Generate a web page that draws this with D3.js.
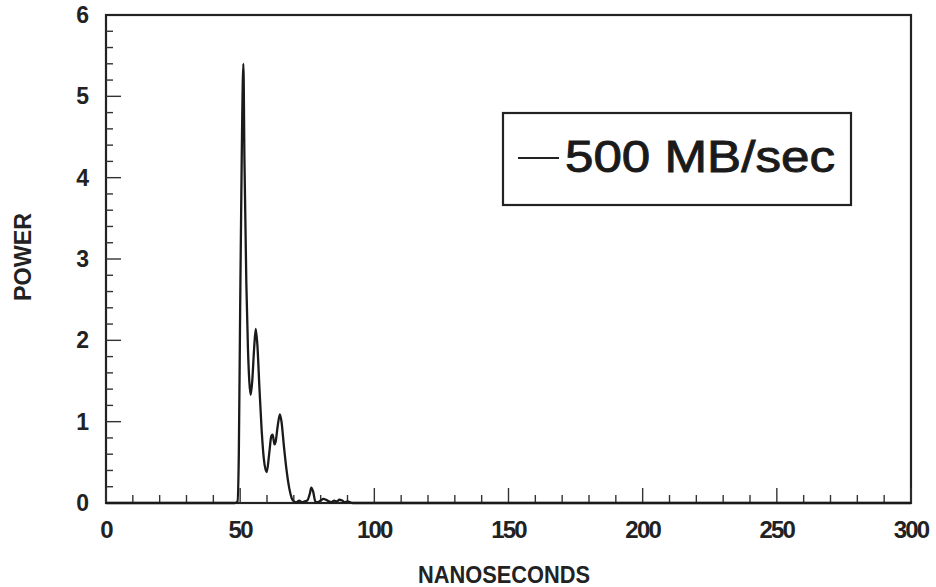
<!DOCTYPE html>
<html><head><meta charset="utf-8">
<script src="https://cdn.jsdelivr.net/npm/d3@7/dist/d3.min.js"></script>
<style>body{margin:0;background:#fff}svg{display:block}</style>
</head><body><svg id="c" width="936" height="587"></svg>
<script>
const time = [0,48,49,49.5,50,50.6,51.2,51.6,52.3,52.9,53.4,53.9,54.5,55.2,55.8,56.4,57.2,58.0,58.8,59.9,60.8,61.6,62.1,62.8,63.2,64.0,64.8,65.4,66.3,67.3,68.3,69.2,70,71,72,73,74,75,76,76.5,77.2,78,79,80,81,82,83,84,85,86,87,88,89,90,92,300];
const power = [0,0,0.02,0.6,2.4,4.3,5.4,4.2,2.7,1.9,1.5,1.33,1.5,1.9,2.14,1.95,1.4,0.9,0.55,0.38,0.6,0.82,0.84,0.72,0.75,0.95,1.09,1.0,0.7,0.4,0.18,0.06,0.02,0.01,0.03,0.01,0.02,0.03,0.12,0.19,0.14,0.02,0.01,0.03,0.05,0.04,0.02,0.01,0.03,0.02,0.04,0.03,0.01,0.02,0,0];
const xTicks = [0,50,100,150,200,250,300];
const yTicks = [0,1,2,3,4,5,6];
const seriesName = "500 MB/sec";
const xLabel = "NANOSECONDS", yLabel = "POWER";

const svg = d3.select("#c");
const L=106, R=911, T=15, B=503;
const x = d3.scaleLinear().domain([0,300]).range([L,R]);
const y = d3.scaleLinear().domain([0,6]).range([B,T]);
const font = "'Liberation Sans', Arial, sans-serif";

// frame
svg.append("rect").attr("x",L).attr("y",T).attr("width",R-L).attr("height",B-T)
  .attr("fill","none").attr("stroke","#222").attr("stroke-width",2.2);

// minor/major ticks (inward)
const xMinor = d3.range(0,301,10);
svg.append("g").selectAll("line").data(xMinor).join("line")
  .attr("x1",d=>x(d)).attr("x2",d=>x(d)).attr("y1",B)
  .attr("y2",d=> d%50===0 ? B-15 : B-8).attr("stroke","#333").attr("stroke-width",1.4);
const yMinor = d3.range(0,30).map(i=>i*0.2);
svg.append("g").selectAll("line").data(yMinor).join("line")
  .attr("y1",d=>y(d)).attr("y2",d=>y(d)).attr("x1",L)
  .attr("x2",d=> Math.abs(d-Math.round(d))<1e-6 ? L+15 : L+7).attr("stroke","#333").attr("stroke-width",1.4);

// tick labels
svg.append("g").selectAll("text").data(xTicks).join("text")
  .attr("x",d=>x(d)).attr("y",538).attr("text-anchor","middle")
  .attr("font-family",font).attr("font-weight","bold").attr("font-size",24)
  .attr("letter-spacing",-1.8).attr("fill","#222").text(d=>d);
svg.append("g").selectAll("text").data(yTicks).join("text")
  .attr("x",89).attr("y",d=>y(d)+8).attr("text-anchor","end")
  .attr("font-family",font).attr("font-weight","bold").attr("font-size",23)
  .attr("fill","#222").text(d=>d);

// axis titles
svg.append("text").attr("x",504).attr("y",583).attr("text-anchor","middle")
  .attr("font-family",font).attr("font-weight","bold").attr("font-size",24)
  .attr("textLength",172).attr("lengthAdjust","spacingAndGlyphs").attr("fill","#222").text(xLabel);
svg.append("text").attr("transform","translate(31,257) rotate(-90)").attr("text-anchor","middle")
  .attr("font-family",font).attr("font-weight","bold").attr("font-size",23)
  .attr("textLength",88).attr("lengthAdjust","spacingAndGlyphs").attr("fill","#222").text(yLabel);

// data line
const line = d3.line().x((d,i)=>x(time[i])).y(d=>y(d)).curve(d3.curveMonotoneX);
svg.append("path").datum(power).attr("d",line).attr("fill","none")
  .attr("stroke","#1a1a1a").attr("stroke-width",2.3).attr("stroke-linejoin","round");

// legend
const lg = svg.append("g");
lg.append("rect").attr("x",503).attr("y",113).attr("width",348).attr("height",92)
  .attr("fill","#fff").attr("stroke","#222").attr("stroke-width",2.2);
lg.append("line").attr("x1",518).attr("x2",559).attr("y1",158).attr("y2",158)
  .attr("stroke","#222").attr("stroke-width",1.8);
lg.append("text").attr("x",565).attr("y",172).attr("font-family",font)
  .attr("font-size",44).attr("fill","#1a1a1a").attr("stroke","#1a1a1a").attr("stroke-width",0.9)
  .attr("textLength",270).attr("lengthAdjust","spacingAndGlyphs").text(seriesName);
</script></body></html>
